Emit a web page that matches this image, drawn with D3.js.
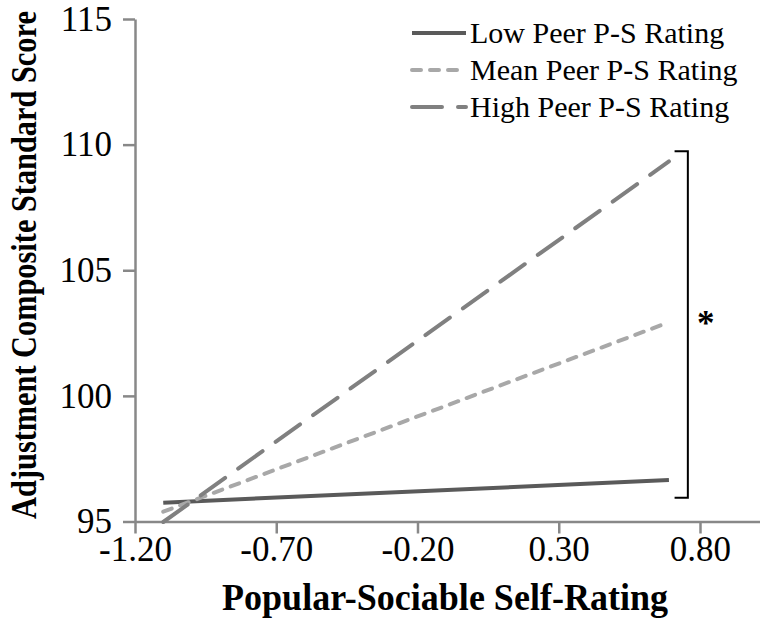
<!DOCTYPE html>
<html>
<head>
<meta charset="utf-8">
<script src="https://cdn.jsdelivr.net/npm/d3@7"></script>
<style>
  html, body { margin: 0; padding: 0; background: #fff; }
  svg { display: block; }
  text { font-family: "Liberation Serif", "Times New Roman", serif; }
</style>
</head>
<body>
<svg id="chart" width="760" height="642"></svg>
<script>
// ---- data ----
const seriesNames = ["Low Peer P-S Rating", "Mean Peer P-S Rating", "High Peer P-S Rating"];
const xPoints = [-1.10, 0.69];
const lowValues = [95.75, 96.65];
const meanValues = [95.39, 102.93];
const highValues = [94.98, 109.33];
const xTickValues = [-1.20, -0.70, -0.20, 0.30, 0.80];
const yTickValues = [95, 100, 105, 110, 115];
const xTitle = "Popular-Sociable Self-Rating";
const yTitle = "Adjustment Composite Standard Score";
const bracketRange = [95.95, 109.74];
const bracketX = [0.71, 0.757];
const bracketLabel = "*";

const svg = d3.select("#chart");
const x = d3.scaleLinear().domain([-1.2, 1.0124]).range([135, 760]);
const y = d3.scaleLinear().domain([95, 115]).range([521.5, 19]);

const axisColor = "#888888";

// y axis
const yAxis = svg.append("g").attr("transform", `translate(${x(-1.2)},0)`)
  .call(d3.axisLeft(y).tickValues(yTickValues).tickSize(12).tickSizeOuter(0).tickPadding(11).tickFormat(d3.format("d")));
yAxis.select(".domain").attr("stroke", axisColor).attr("stroke-width", 2.5);
yAxis.selectAll(".tick line").attr("stroke", axisColor).attr("stroke-width", 2.5);
yAxis.selectAll(".tick text").attr("font-size", 35).attr("fill", "#000")
  .attr("font-family", "Liberation Serif");

// x axis
const xAxis = svg.append("g").attr("transform", `translate(0,${y(95)})`)
  .call(d3.axisBottom(x).tickValues(xTickValues).tickSize(12).tickSizeOuter(0).tickPadding(3).tickFormat(d => d.toFixed(2)));
xAxis.select(".domain").attr("stroke", axisColor).attr("stroke-width", 2.5);
xAxis.selectAll(".tick line").attr("stroke", axisColor).attr("stroke-width", 2.5);
xAxis.selectAll(".tick text").attr("font-size", 35).attr("fill", "#000")
  .attr("font-family", "Liberation Serif");

// series
const styles = [
  { color: "#5a5a5a", dash: null, cap: "butt" },
  { color: "#a8a8a8", dash: "9,9", cap: "round" },
  { color: "#808080", dash: "30,16", cap: "round" }
];
const seriesValues = [lowValues, meanValues, highValues];
const line = d3.line().x(d => x(d[0])).y(d => y(d[1]));
seriesValues.forEach((vals, i) => {
  svg.append("path")
    .datum(xPoints.map((xv, j) => [xv, vals[j]]))
    .attr("d", line)
    .attr("fill", "none")
    .attr("stroke", styles[i].color)
    .attr("stroke-width", 4)
    .attr("stroke-dasharray", styles[i].dash)
    .attr("stroke-linecap", styles[i].cap);
});

// bracket
svg.append("path")
  .attr("d", `M${x(bracketX[0])},${y(bracketRange[1])}H${x(bracketX[1])}V${y(bracketRange[0])}H${x(bracketX[0])}`)
  .attr("fill", "none").attr("stroke", "#000").attr("stroke-width", 2);
svg.append("text")
  .attr("x", x(bracketX[1]) + 18).attr("y", y((bracketRange[0] + bracketRange[1]) / 2) + 11)
  .attr("text-anchor", "middle").attr("font-size", 35).attr("font-weight", "bold")
  .attr("font-family", "DejaVu Sans")
  .text(bracketLabel);

// legend
const legend = svg.append("g");
seriesNames.forEach((name, i) => {
  const ly = 33 + i * 37;
  legend.append("line")
    .attr("x1", 412).attr("x2", 466).attr("y1", ly).attr("y2", ly)
    .attr("stroke", styles[i].color).attr("stroke-width", 4)
    .attr("stroke-dasharray", styles[i].dash)
    .attr("stroke-linecap", styles[i].cap);
  legend.append("text")
    .attr("x", 470).attr("y", ly + 10)
    .attr("font-size", 30).attr("fill", "#000")
    .text(name);
});

// titles (condensed with a transform so the box matches the drawn glyphs)
function condensed(text, size, targetLen) {
  const t = svg.append("text")
    .attr("text-anchor", "middle").attr("font-size", size).attr("font-weight", "bold")
    .text(text);
  const len = t.node().getComputedTextLength();
  return { node: t, k: targetLen / len };
}
const xt = condensed(xTitle, 38, 446);
xt.node.attr("transform", `translate(445,610) scale(${xt.k},1)`);
const yt = condensed(yTitle, 35, 508);
yt.node.attr("transform", `translate(36,265) rotate(-90) scale(${yt.k},1)`);
</script>
</body>
</html>
